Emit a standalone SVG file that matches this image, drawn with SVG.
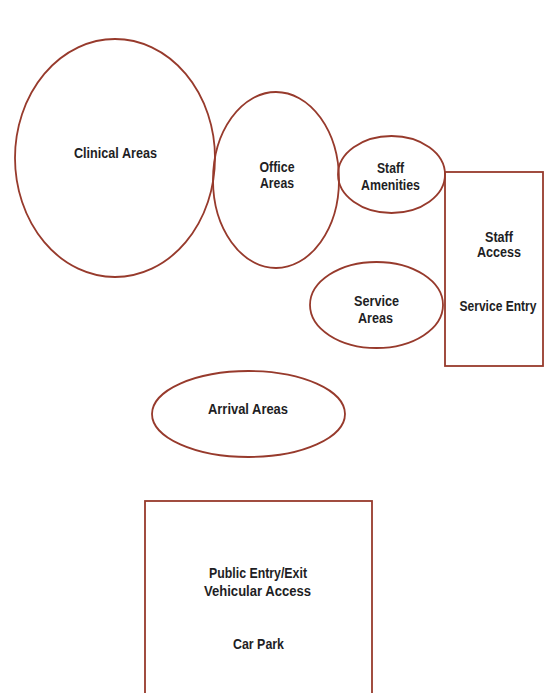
<svg xmlns="http://www.w3.org/2000/svg" width="544" height="693" viewBox="0 0 544 693">
  <style>
    .zone { fill: none; stroke: #973a2c; stroke-width: 1.8; }
    .lbl { font-family: "Liberation Sans Narrow", "Liberation Sans", Arial, sans-serif; font-weight: bold; font-size: 14.5px; fill: #1e1e24; text-anchor: middle; }
  </style>
  <rect width="544" height="693" fill="#ffffff"/>
  <g id="connectors"></g>
  <g id="clinical-areas">
    <ellipse class="zone" cx="115" cy="158" rx="100" ry="119"/>
    <text class="lbl" x="115.5" y="158" textLength="83" lengthAdjust="spacingAndGlyphs">Clinical Areas</text>
  </g>
  <g id="office-areas">
    <ellipse class="zone" cx="276" cy="180" rx="63" ry="88"/>
    <text class="lbl" x="277" y="172" textLength="35" lengthAdjust="spacingAndGlyphs">Office</text>
    <text class="lbl" x="277" y="188" textLength="34" lengthAdjust="spacingAndGlyphs">Areas</text>
  </g>
  <g id="staff-amenities">
    <ellipse class="zone" cx="391.5" cy="174.5" rx="53.5" ry="38.5"/>
    <text class="lbl" x="390.5" y="173" textLength="27" lengthAdjust="spacingAndGlyphs">Staff</text>
    <text class="lbl" x="390.5" y="190" textLength="59" lengthAdjust="spacingAndGlyphs">Amenities</text>
  </g>
  <g id="staff-access">
    <rect class="zone" x="445" y="172" width="98" height="194"/>
    <text class="lbl" x="499" y="242" textLength="28" lengthAdjust="spacingAndGlyphs">Staff</text>
    <text class="lbl" x="499" y="257" textLength="44" lengthAdjust="spacingAndGlyphs">Access</text>
    <text class="lbl" x="498" y="311" textLength="77" lengthAdjust="spacingAndGlyphs">Service Entry</text>
  </g>
  <g id="service-areas">
    <ellipse class="zone" cx="376.5" cy="305" rx="66.5" ry="43"/>
    <text class="lbl" x="376.5" y="306" textLength="45" lengthAdjust="spacingAndGlyphs">Service</text>
    <text class="lbl" x="375.5" y="323" textLength="35" lengthAdjust="spacingAndGlyphs">Areas</text>
  </g>
  <g id="arrival-areas">
    <ellipse class="zone" cx="248.5" cy="414" rx="96.5" ry="43"/>
    <text class="lbl" x="248" y="414" textLength="80" lengthAdjust="spacingAndGlyphs">Arrival Areas</text>
  </g>
  <g id="car-park">
    <rect class="zone" x="145" y="501" width="227" height="200"/>
    <text class="lbl" x="258" y="578" textLength="98" lengthAdjust="spacingAndGlyphs">Public Entry/Exit</text>
    <text class="lbl" x="257.5" y="596" textLength="107" lengthAdjust="spacingAndGlyphs">Vehicular Access</text>
    <text class="lbl" x="258.5" y="649" textLength="51" lengthAdjust="spacingAndGlyphs">Car Park</text>
  </g>
</svg>
